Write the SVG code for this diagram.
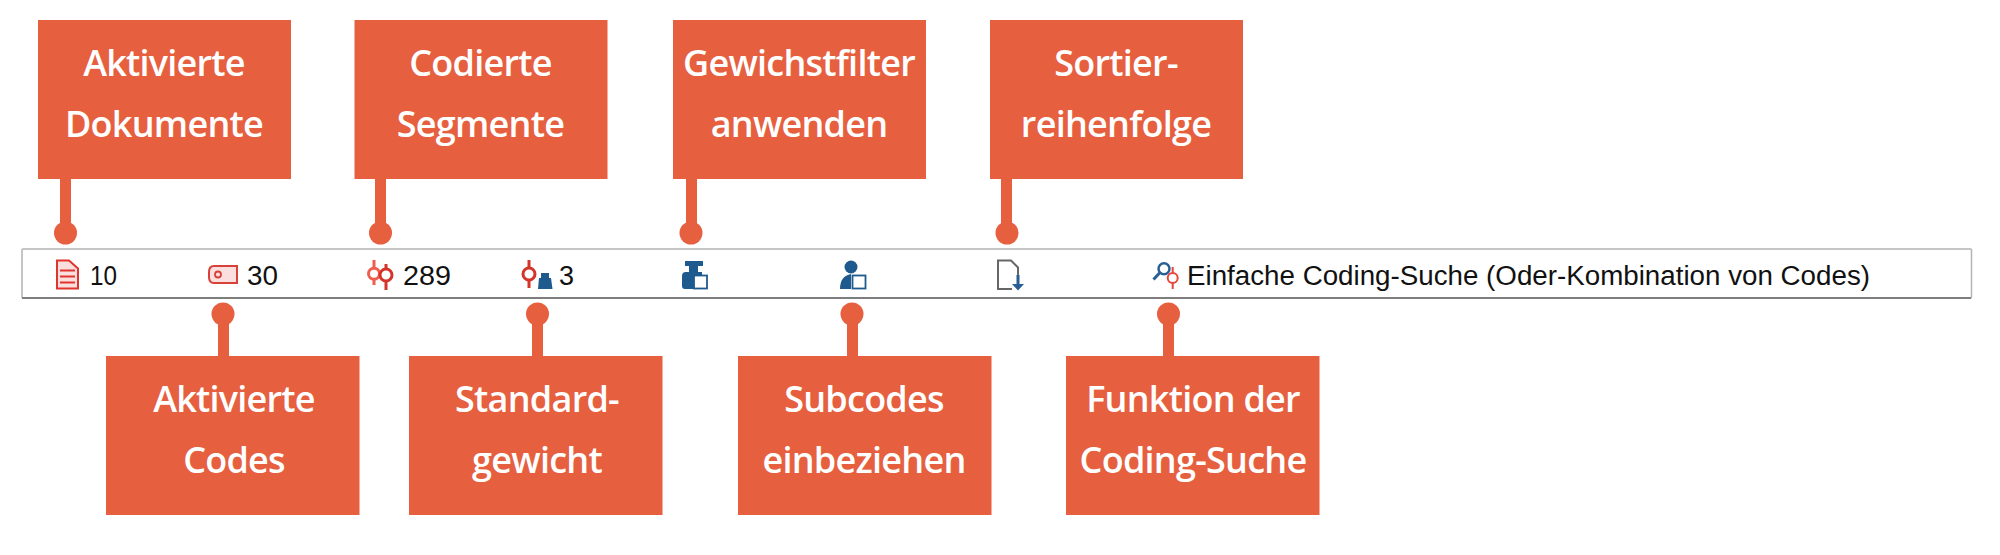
<svg xmlns="http://www.w3.org/2000/svg" width="2000" height="555" viewBox="0 0 2000 555">
<style>
.box{fill:#e65f3f}
.lbl{font-family:"Open Sans",sans-serif;font-weight:600;font-size:36px;letter-spacing:-.75px;fill:#fff;text-anchor:middle}
.t{font-family:"Liberation Sans",sans-serif;font-size:27px;fill:#111}
.con{fill:#e65f3f}
.wh{fill:#fff;stroke:#1f5a8f;stroke-width:1.8}
.blue{fill:#1f5a8f}
</style>
<rect width="2000" height="555" fill="#fff"/>
<g id="bar">
<rect x="22" y="249" width="1949.5" height="49" rx="1" fill="#fff" stroke="#b4b4b4" stroke-width="1.5"/>
<path d="M22 298H1971" stroke="#666" stroke-width="1.5" fill="none"/>
<text class="t" x="90" y="285" textLength="27" lengthAdjust="spacingAndGlyphs">10</text>
<text class="t" x="247" y="285" textLength="31" lengthAdjust="spacingAndGlyphs">30</text>
<text class="t" x="403" y="285" textLength="48" lengthAdjust="spacingAndGlyphs">289</text>
<text class="t" x="559" y="285">3</text>
<text class="t" x="1187" y="285" textLength="683" lengthAdjust="spacingAndGlyphs">Einfache Coding-Suche (Oder-Kombination von Codes)</text>
<g id="icon-doc">
<path d="M57 260.500H69L78 268.500V288.500H57Z" fill="#fbdfdf" stroke="#e0352e" stroke-width="2"/>
<path d="M60 270.500H75M60 276.500H75M60 282.500H75" stroke="#e0352e" stroke-width="1.800" fill="none"/>
</g>
<g id="icon-tag">
<path d="M237 266V283H214Q209 283 209 277V272Q209 266 214 266Z" fill="#fbdfdf" stroke="#d8403a" stroke-width="2"/>
<circle cx="218" cy="274.500" r="3" fill="none" stroke="#d8403a" stroke-width="1.800"/>
</g>
<g id="icon-seg">
<path d="M374 260V268M374 279.500V285" stroke="#ee5f50" stroke-width="3" fill="none"/>
<circle cx="374" cy="273.700" r="5.500" fill="#fff" stroke="#ee5f50" stroke-width="3"/>
<path d="M386 264V269M386 281V290" stroke="#d4342a" stroke-width="3" fill="none"/>
<circle cx="386" cy="275" r="6" fill="#fff" stroke="#d4342a" stroke-width="3"/>
</g>
<g id="icon-std">
<path d="M529 260V268M529 280V288" stroke="#d4342a" stroke-width="3" fill="none"/>
<circle cx="529" cy="274" r="6" fill="#fff" stroke="#d4342a" stroke-width="3"/>
<path class="blue" d="M541 273H549V278H551L552.500 289H538L539 278H541Z"/>
</g>
<g id="icon-wf">
<path class="blue" d="M685 261H703V266H698V272H702V289H685Q682 289 682 286V276Q682 272 686 272H689V266H685Z"/>
<rect class="wh" x="694" y="275.500" width="13" height="13"/>
</g>
<g id="icon-sub">
<circle class="blue" cx="851" cy="267" r="6.500"/>
<path class="blue" d="M840 289Q840 276 851 274V289Z"/>
<rect class="wh" x="852.500" y="275.500" width="13" height="13"/>
</g>
<g id="icon-sort">
<path d="M1012 289H998V260.500H1011L1018 267.500V276" fill="none" stroke="#666" stroke-width="2"/>
<path d="M1016.500 275H1019.500V284H1024L1018 290.500L1012 284H1016.500Z" fill="#2a5f96"/>
</g>
<g id="icon-search">
<circle cx="1164" cy="268.700" r="5.500" fill="#fff" stroke="#2a5f96" stroke-width="2.500"/>
<path d="M1160 272.500L1153.500 279.500" stroke="#2a5f96" stroke-width="3" fill="none"/>
<path d="M1172.700 267V273M1172.700 283V289" stroke="#e8453c" stroke-width="2" fill="none"/>
<circle cx="1172.700" cy="278" r="5" fill="#fff" stroke="#e8453c" stroke-width="2"/>
</g>
</g>
<g id="connectors">
<g class="con">
<rect x="60" y="179" width="11" height="45"/><circle cx="65.500" cy="233" r="11.500"/>
<rect x="375" y="179" width="11" height="45"/><circle cx="380.500" cy="233" r="11.500"/>
<rect x="686" y="179" width="11" height="45"/><circle cx="691" cy="233" r="11.500"/>
<rect x="1001" y="179" width="11" height="45"/><circle cx="1007" cy="233" r="11.500"/>
<rect x="218" y="322" width="11" height="34"/><circle cx="223" cy="314" r="11.500"/>
<rect x="532" y="322" width="11" height="34"/><circle cx="537.500" cy="314" r="11.500"/>
<rect x="847" y="322" width="11" height="34"/><circle cx="852" cy="314" r="11.500"/>
<rect x="1163" y="322" width="11" height="34"/><circle cx="1168.500" cy="314" r="11.500"/>
</g>
</g>
<g id="n1"><rect class="box" x="38" y="20" width="253" height="159"/><text class="lbl" x="164" y="76">Aktivierte</text><text class="lbl" x="164" y="137">Dokumente</text></g>
<g id="n2"><rect class="box" x="354.500" y="20" width="253" height="159"/><text class="lbl" x="480.500" y="76">Codierte</text><text class="lbl" x="480.500" y="137">Segmente</text></g>
<g id="n3"><rect class="box" x="673" y="20" width="253" height="159"/><text class="lbl" x="799" y="76">Gewichstfilter</text><text class="lbl" x="799" y="137">anwenden</text></g>
<g id="n4"><rect class="box" x="990" y="20" width="253" height="159"/><text class="lbl" x="1116" y="76">Sortier-</text><text class="lbl" x="1116" y="137">reihenfolge</text></g>
<g id="n5"><rect class="box" x="106" y="356" width="253.500" height="159"/><text class="lbl" x="234" y="412">Aktivierte</text><text class="lbl" x="234" y="473">Codes</text></g>
<g id="n6"><rect class="box" x="409" y="356" width="253.500" height="159"/><text class="lbl" x="537" y="412">Standard-</text><text class="lbl" x="537" y="473">gewicht</text></g>
<g id="n7"><rect class="box" x="738" y="356" width="253.500" height="159"/><text class="lbl" x="864" y="412">Subcodes</text><text class="lbl" x="864" y="473">einbeziehen</text></g>
<g id="n8"><rect class="box" x="1066" y="356" width="253.500" height="159"/><text class="lbl" x="1193" y="412">Funktion der</text><text class="lbl" x="1193" y="473">Coding-Suche</text></g>
</svg>
